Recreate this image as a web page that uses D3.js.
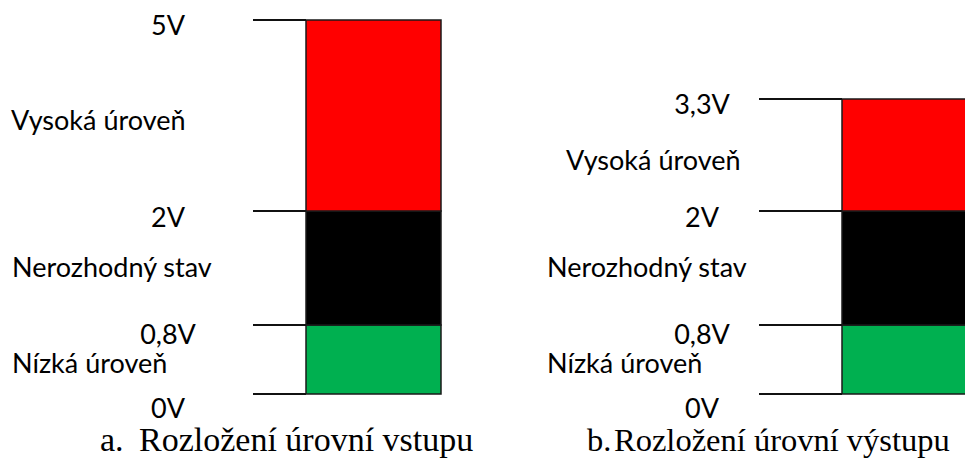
<!DOCTYPE html>
<html>
<head>
<meta charset="utf-8">
<script src="https://cdn.jsdelivr.net/npm/d3@7"></script>
<style>
  html, body { margin: 0; padding: 0; background: #fff; }
  svg { display: block; }
</style>
</head>
<body>
<svg id="chart" width="965" height="475"></svg>
<script>
// ---- data ----
const thresholdsInput  = [0, 0.8, 2, 5];
const thresholdsOutput = [0, 0.8, 2, 3.3];
const tickLabelsInput  = ["0V", "0,8V", "2V", "5V"];
const tickLabelsOutput = ["0V", "0,8V", "2V", "3,3V"];
const bandNames  = ["Nízká úroveň", "Nerozhodný stav", "Vysoká úroveň"];
const bandColors = ["#00b050", "#000000", "#ff0000"];
const captionLetters = ["a.", "b."];
const captionTexts   = ["Rozložení úrovní vstupu", "Rozložení úrovní výstupu"];

// ---- layout ----
const svg = d3.select("#chart");

// Piecewise (non-proportional) voltage scale used by the figure
const y = d3.scaleLinear()
  .domain([0, 0.8, 2, 3.3, 5])
  .range([394, 325, 211, 99, 20]);

const panels = [
  { thresholds: thresholdsInput,  ticks: tickLabelsInput,
    lineStart: 253, barX: 306, barW: 135, tickX: 168,
    bandX: [12, 12, 11], capLetterX: 100, capTextX: 139, capSize: 34 },
  { thresholds: thresholdsOutput, ticks: tickLabelsOutput,
    lineStart: 759, barX: 842, barW: 135, tickX: 702,
    bandX: [547, 547, 566], capLetterX: 587, capTextX: 614, capSize: 32.5 }
];
const tickDy = [13, 8, 5, 4];
const bandDy = [3, -2, 4];

const sansFont = "Lato, 'Open Sans', sans-serif";
const serifFont = "'Liberation Serif', 'Times New Roman', serif";
const sansSize = 27;

panels.forEach((p, pi) => {
  const g = svg.append("g");
  const bands = d3.range(p.thresholds.length - 1).map(i => ({
    lo: p.thresholds[i], hi: p.thresholds[i + 1], i
  }));

  // bars
  g.selectAll("rect.band").data(bands).join("rect")
    .attr("class", "band")
    .attr("x", p.barX)
    .attr("width", p.barW)
    .attr("y", d => y(d.hi))
    .attr("height", d => y(d.lo) - y(d.hi))
    .attr("fill", d => bandColors[d.i])
    .attr("stroke", "#1a1a1a")
    .attr("stroke-width", 1.5);

  // threshold lines
  g.selectAll("line.tick").data(p.thresholds).join("line")
    .attr("class", "tick")
    .attr("x1", p.lineStart)
    .attr("x2", p.barX)
    .attr("y1", d => y(d))
    .attr("y2", d => y(d))
    .attr("stroke", "#111")
    .attr("stroke-width", 2);

  // threshold labels
  g.selectAll("text.tickLabel").data(p.thresholds).join("text")
    .attr("class", "tickLabel")
    .attr("x", p.tickX)
    .attr("y", d => y(d))
    .attr("dy", (d, i) => tickDy[i])
    .attr("dominant-baseline", "central")
    .attr("text-anchor", "middle")
    .attr("font-family", sansFont)
    .attr("font-size", sansSize)
    .attr("fill", "#000")
    .text((d, i) => p.ticks[i]);

  // band labels
  g.selectAll("text.bandLabel").data(bands).join("text")
    .attr("class", "bandLabel")
    .attr("x", d => p.bandX[d.i])
    .attr("y", d => (y(d.lo) + y(d.hi)) / 2)
    .attr("dy", d => bandDy[d.i])
    .attr("dominant-baseline", "central")
    .attr("text-anchor", "start")
    .attr("font-family", sansFont)
    .attr("font-size", sansSize)
    .attr("fill", "#000")
    .text(d => bandNames[d.i]);

  // caption
  const cap = g.append("text")
    .attr("y", 451)
    .attr("font-family", serifFont).attr("font-size", p.capSize)
    .attr("font-style", "normal")
    .attr("fill", "#000");
  cap.append("tspan").attr("x", p.capLetterX).text(captionLetters[pi]);
  cap.append("tspan").attr("x", p.capTextX).text(captionTexts[pi]);
});
</script>
</body>
</html>
